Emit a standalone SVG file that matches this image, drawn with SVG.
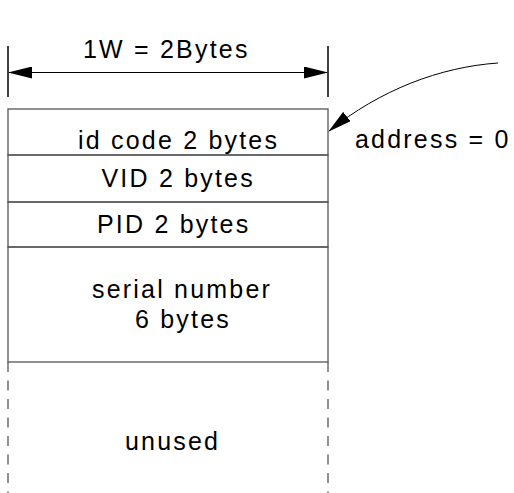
<svg xmlns="http://www.w3.org/2000/svg" width="514" height="493" viewBox="0 0 514 493">
<style>
text{font-family:"Liberation Sans",Arial,sans-serif;font-size:25px;fill:#000;letter-spacing:2.2px}
.box{fill:none;stroke:#555;stroke-width:1.3}
.dash{fill:none;stroke:#555;stroke-width:1.3;stroke-dasharray:10 8.5}
.tick{stroke:#000;stroke-width:1.5}
.line{fill:none;stroke:#000;stroke-width:1}
</style>
<defs>
<marker id="ah" markerWidth="24" markerHeight="12" refX="23" refY="6" orient="auto" markerUnits="userSpaceOnUse">
<path d="M0,0 L24,6 L0,12 Z" fill="#000"/>
</marker>
</defs>
<rect width="514" height="493" fill="#fff"/>
<g id="width-dimension">
<line class="tick" x1="8" y1="46" x2="8" y2="97"/>
<line class="tick" x1="328" y1="46" x2="328" y2="97"/>
<text x="83" y="58">1W = 2Bytes</text>
</g>
<g id="connectors">
<line class="line" x1="168" y1="72.5" x2="9" y2="72.5" marker-end="url(#ah)"/>
<line class="line" x1="168" y1="72.5" x2="327" y2="72.5" marker-end="url(#ah)"/>
<path class="line" d="M498,63 C440,67 380,90 329,131" marker-end="url(#ah)"/>
</g>
<g id="id-code">
<rect class="box" x="8" y="109" width="320" height="46"/>
<text x="78" y="148.5">id code 2 bytes</text>
</g>
<g id="vid">
<rect class="box" x="8" y="155" width="320" height="47"/>
<text x="101.5" y="187">VID 2 bytes</text>
</g>
<g id="pid">
<rect class="box" x="8" y="202" width="320" height="45"/>
<text x="97" y="233">PID 2 bytes</text>
</g>
<g id="serial-number">
<rect class="box" x="8" y="247" width="320" height="115"/>
<text x="92" y="298">serial number</text>
<text x="135" y="328">6 bytes</text>
</g>
<g id="unused">
<line class="dash" x1="8" y1="362" x2="8" y2="493"/>
<line class="dash" x1="328" y1="362" x2="328" y2="493"/>
<text x="125" y="450">unused</text>
</g>
<g id="address-label">
<text x="355" y="148">address = 0</text>
</g>
</svg>
